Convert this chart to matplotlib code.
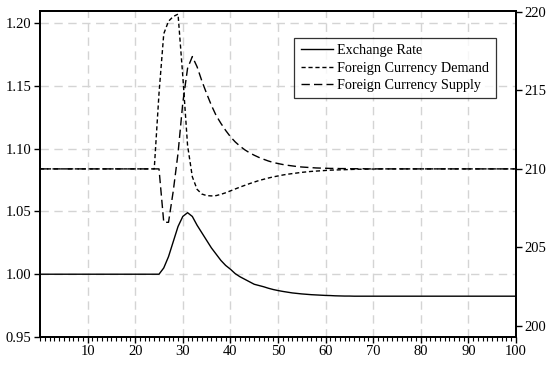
import numpy as np
import matplotlib
matplotlib.use("Agg")
import matplotlib.pyplot as plt
from matplotlib.ticker import MultipleLocator

plt.rcParams['font.family'] = ['Liberation Serif', 'DejaVu Serif']

# time index 0..100
t = np.arange(0, 101)

# exchange rate (left axis)
exchange_rate = ([1.0] * 26 +
                 [1.005, 1.014, 1.026, 1.038, 1.046, 1.049, 1.046, 1.039, 1.033, 1.027,
                  1.021, 1.016, 1.011, 1.007, 1.004, 1.0005, 0.998, 0.996, 0.994, 0.992,
                  0.991, 0.990, 0.9888, 0.9878, 0.987, 0.9863, 0.9857, 0.9851, 0.9847, 0.9843,
                  0.984, 0.9837, 0.9835, 0.9833, 0.9831, 0.983, 0.9828, 0.9827, 0.9826, 0.9826] +
                 [0.9825] * 35)

# foreign currency demand (right axis)
fx_demand = ([210.0] * 24 +
             [210.0, 214.8, 218.6, 219.4, 219.7, 219.85, 215.9, 211.5, 209.5, 208.7,
              208.4, 208.3, 208.28, 208.3, 208.38, 208.48, 208.6, 208.72, 208.84, 208.95,
              209.06, 209.16, 209.26, 209.34, 209.42, 209.49, 209.55, 209.61, 209.66, 209.7,
              209.74, 209.78, 209.81, 209.84, 209.86, 209.88, 209.9, 209.92, 209.93, 209.94,
              209.95, 209.96, 209.97, 209.98, 209.98, 209.99, 209.99] +
             [210.0] * 30)

# foreign currency supply (right axis)
fx_supply = ([210.0] * 26 +
             [206.6, 206.6, 208.6, 211.0, 214.2, 216.4, 217.15, 216.5, 215.6, 214.8,
              214.05, 213.4, 212.9, 212.45, 212.05, 211.72, 211.45, 211.22, 211.03, 210.87,
              210.73, 210.61, 210.5, 210.41, 210.34, 210.28, 210.23, 210.19, 210.15, 210.12,
              210.1, 210.08, 210.06, 210.05, 210.04, 210.03, 210.03, 210.02, 210.02, 210.01,
              210.01, 210.01, 210.01] +
             [210.0] * 32)

fig = plt.figure(figsize=(5.52, 3.66), dpi=100)
ax = fig.add_axes([40 / 552, 1 - 337 / 366, 476 / 552, 326 / 366])
ax2 = ax.twinx()

l1, = ax.plot(t, exchange_rate, color='black', lw=1.0, label='Exchange Rate')
l2, = ax2.plot(t, fx_demand, color='black', lw=1.0, linestyle=(0, (3, 2)),
               label='Foreign Currency Demand')
l3, = ax2.plot(t, fx_supply, color='black', lw=1.0, linestyle=(0, (6, 3)),
               label='Foreign Currency Supply')

ax.set_xlim(0, 100)
ax.set_ylim(0.95, 1.2096)
ax2.set_ylim(199.3, 220.05)

ax.set_yticks([0.95, 1.00, 1.05, 1.10, 1.15, 1.20])
ax.set_yticklabels(['0.95', '1.00', '1.05', '1.10', '1.15', '1.20'])
ax2.set_yticks([200, 205, 210, 215, 220])
ax.set_xticks(np.arange(10, 101, 10))
ax.xaxis.set_minor_locator(MultipleLocator(1))

ax.grid(True, color='#d4d4d4', linestyle=(0, (6, 4)), linewidth=1.0)
ax.set_axisbelow(True)

for a in (ax, ax2):
    for s in a.spines.values():
        s.set_linewidth(1.3)
ax.tick_params(axis='both', which='major', direction='out', length=4, width=1,
               labelsize=10.5, pad=2)
ax.tick_params(axis='x', which='minor', direction='out', length=3, width=0.8)
ax2.tick_params(axis='y', direction='out', length=4, width=1, labelsize=10.5, pad=2)

leg = ax2.legend(handles=[l1, l2, l3], loc='upper left', bbox_to_anchor=(0.534, 0.917),
                 fontsize=10.2, frameon=True, fancybox=False, handlelength=2.3,
                 handletextpad=0.3, borderpad=0.45, labelspacing=0.3, borderaxespad=0)
leg.get_frame().set_edgecolor('black')
leg.get_frame().set_linewidth(0.9)

fig.savefig('out.png', dpi=100)
